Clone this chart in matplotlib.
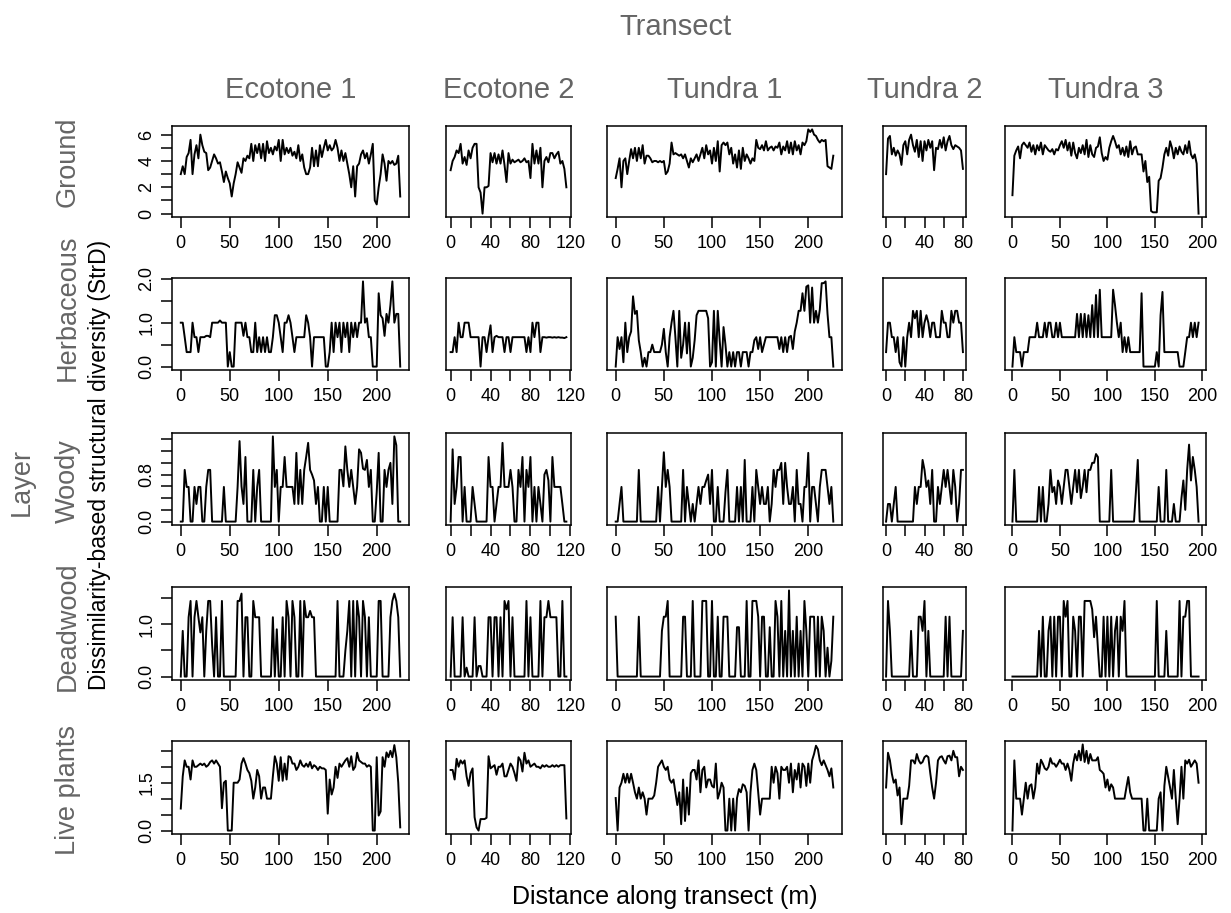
import numpy as np
import matplotlib
matplotlib.use("Agg")
import matplotlib.pyplot as plt

plt.rcParams["font.family"] = ["Liberation Sans", "DejaVu Sans"]

transects = ["Ecotone 1", "Ecotone 2", "Tundra 1", "Tundra 2", "Tundra 3"]
layers = ["Ground", "Herbaceous", "Woody", "Deadwood", "Live plants"]
step_m = 2  # sampling interval along each transect (m)

# ---- StrD values, one list per layer x transect (every 2 m) ----
ground_eco1 = [3.0, 3.6, 3.0, 4.3, 4.6, 5.6, 3.0, 4.5, 5.2, 4.2,
               6.0, 5.2, 4.7, 4.6, 3.3, 3.5, 4.0, 4.5, 4.2, 3.8,
               3.9, 3.2, 2.4, 3.2, 2.7, 2.3, 1.3, 2.3, 3.0, 3.9,
               3.5, 3.1, 4.2, 4.0, 4.4, 4.2, 5.3, 4.0, 5.2, 4.6,
               5.3, 4.2, 5.3, 4.0, 5.5, 4.6, 5.0, 4.5, 5.1, 4.8,
               5.6, 4.0, 5.6, 4.5, 5.0, 4.6, 5.0, 4.4, 4.7, 4.2,
               5.2, 4.0, 4.5, 3.5, 3.0, 3.0, 3.5, 5.0, 3.6, 4.8,
               3.6, 5.2, 4.3, 5.0, 5.6, 4.8, 5.2, 4.8, 5.0, 5.6,
               5.0, 4.0, 4.8, 4.0, 4.6, 3.8, 3.0, 2.0, 3.6, 1.3,
               3.6, 3.8, 4.5, 4.8, 4.2, 4.6, 3.8, 4.5, 5.3, 1.0,
               0.7, 2.0, 3.0, 4.5, 3.8, 2.5, 4.0, 3.8, 4.0, 3.7,
               3.8, 4.4, 1.3]
ground_eco2 = [3.3, 4.0, 4.3, 4.8, 4.6, 5.3, 3.8, 4.3, 3.7, 4.8,
               4.2, 5.0, 5.3, 5.3, 2.0, 1.6, 0.0, 2.0, 2.0, 2.1,
               4.6, 3.9, 4.6, 3.8, 4.5, 3.8, 4.8, 3.7, 2.4, 4.6,
               3.8, 4.1, 3.9, 4.0, 4.1, 3.9, 4.0, 4.2, 3.9, 4.0,
               2.7, 5.3, 3.8, 4.8, 3.8, 5.0, 2.0, 4.0, 4.3, 3.9,
               4.6, 4.6, 4.2, 4.5, 4.7, 3.8, 4.0, 3.4, 2.0]
ground_tun1 = [2.7, 3.4, 4.2, 2.0, 4.0, 4.2, 3.0, 4.0, 4.9, 4.2,
               5.0, 4.0, 5.0, 4.2, 5.2, 3.8, 4.4, 4.4, 4.2, 3.9,
               4.0, 4.0, 3.9, 4.0, 3.9, 4.0, 3.0, 3.2, 3.8, 5.4,
               4.5, 4.6, 4.5, 4.4, 4.5, 4.2, 4.5, 4.0, 3.5, 4.2,
               3.9, 4.2, 4.5, 4.0, 4.5, 5.0, 4.2, 5.2, 4.5, 4.8,
               3.8, 5.0, 4.0, 5.5, 3.2, 5.2, 5.4, 5.2, 5.4, 4.5,
               5.0, 3.8, 4.5, 3.5, 4.8, 3.4, 5.0, 4.0, 4.5, 4.2,
               3.8, 4.2, 4.0, 5.6, 5.0, 4.9, 5.2, 4.8, 5.5, 4.8,
               5.0, 5.1, 4.8, 5.1, 5.0, 5.4, 4.5, 5.1, 4.8, 5.5,
               4.6, 5.4, 4.5, 5.5, 4.8, 5.2, 4.5, 5.4, 5.2, 5.5,
               6.4, 6.2, 6.4, 6.0, 5.9, 5.6, 5.4, 5.6, 5.5, 5.6,
               3.6, 3.5, 3.4, 4.4]
ground_tun2 = [3.0, 5.7, 5.9, 4.5, 5.0, 4.4, 4.8, 4.5, 3.7, 5.2,
               5.5, 4.5, 5.6, 6.0, 5.2, 4.7, 5.6, 4.3, 5.5, 4.0,
               5.5, 4.8, 5.6, 5.0, 5.5, 3.3, 5.0, 4.9, 5.6, 5.0,
               5.8, 4.8, 5.5, 5.9, 5.2, 4.9, 5.2, 5.1, 5.0, 4.8,
               3.4]
ground_tun3 = [1.4, 4.4, 4.8, 5.1, 4.2, 5.2, 5.4, 5.2, 5.0, 5.4,
               4.7, 5.2, 4.5, 5.2, 4.8, 5.4, 4.5, 5.2, 5.0, 4.8,
               4.7, 4.9, 4.5, 4.9, 4.8, 5.2, 5.5, 5.0, 5.6, 4.8,
               5.4, 4.4, 5.4, 4.6, 4.2, 5.0, 4.6, 5.2, 4.5, 5.6,
               4.3, 5.2, 4.5, 4.3, 5.0, 5.1, 5.8, 4.6, 4.0, 4.3,
               4.1, 5.0, 5.5, 5.9, 5.5, 5.0, 5.2, 4.5, 5.0, 4.4,
               5.1, 4.3, 5.5, 4.5, 5.0, 5.1, 4.5, 4.5, 4.5, 3.2,
               4.0, 2.4, 2.8, 0.2, 0.1, 0.1, 0.1, 2.5, 2.7, 3.5,
               4.5, 5.0, 4.4, 5.5, 5.0, 4.2, 5.0, 4.5, 5.1, 4.7,
               4.5, 5.2, 4.6, 5.5, 4.5, 4.2, 4.5, 3.8, 0.0]

herb_eco1 = [1.0, 1.0, 0.67, 0.33, 0.33, 0.33, 1.0, 0.67, 0.67, 0.33,
             0.67, 0.67, 0.67, 0.7, 0.7, 0.67, 1.0, 1.0, 1.0, 1.0,
             1.05, 1.0, 1.0, 1.0, 0.0, 0.33, 0.0, 0.0, 1.0, 1.0,
             1.0, 1.0, 0.7, 1.0, 0.67, 0.67, 0.33, 0.33, 1.0, 0.33,
             0.67, 0.33, 0.67, 0.33, 0.67, 0.33, 0.33, 0.67, 1.17, 1.17,
             1.0, 0.67, 0.33, 1.0, 1.0, 1.17, 1.0, 0.67, 0.33, 0.67,
             0.67, 0.67, 0.67, 0.67, 1.17, 1.0, 0.67, 0.0, 0.67, 0.67,
             0.67, 0.67, 0.67, 0.67, 0.0, 0.0, 0.33, 1.0, 0.33, 1.0,
             0.67, 1.0, 0.33, 1.0, 0.67, 1.0, 0.33, 1.0, 0.67, 1.0,
             0.67, 1.0, 1.0, 1.94, 1.0, 1.1, 0.67, 0.67, 0.0, 0.0,
             0.0, 1.67, 1.17, 1.1, 0.7, 1.2, 1.0, 1.4, 1.94, 1.0,
             1.2, 1.2, 0.0]
herb_eco2 = [0.33, 0.33, 0.67, 0.33, 1.0, 0.67, 0.67, 1.0, 1.0, 1.0,
             0.67, 0.67, 0.67, 0.67, 0.67, 0.0, 0.67, 0.67, 0.33, 0.67,
             0.94, 0.33, 0.67, 0.7, 0.67, 0.67, 0.67, 0.33, 0.67, 0.67,
             0.33, 0.67, 0.67, 0.67, 0.67, 0.67, 0.67, 0.67, 0.33, 0.67,
             0.33, 1.0, 0.67, 1.0, 1.0, 0.33, 0.67, 0.67, 0.66, 0.67,
             0.67, 0.66, 0.67, 0.66, 0.67, 0.66, 0.66, 0.65, 0.67]
herb_tun1 = [0.0, 0.67, 0.4, 0.67, 0.1, 1.0, 0.33, 0.67, 0.8, 1.6,
             1.2, 1.27, 0.6, 0.33, 0.0, 0.2, 0.0, 0.33, 0.33, 0.5,
             0.33, 0.33, 0.33, 0.33, 0.5, 0.86, 0.33, 0.0, 0.67, 1.0,
             1.27, 0.67, 0.0, 1.27, 0.2, 0.5, 1.0, 0.3, 1.0, 0.0,
             0.2, 0.6, 1.17, 1.27, 1.27, 1.27, 1.27, 1.27, 1.1, 0.0,
             0.1, 1.27, 0.0, 1.27, 0.6, 0.0, 0.9, 0.5, 0.0, 0.33,
             0.0, 0.33, 0.0, 0.33, 0.33, 0.0, 0.33, 0.33, 0.33, 0.0,
             0.33, 0.33, 0.6, 0.67, 0.4, 0.67, 0.33, 0.5, 0.67, 0.67,
             0.67, 0.67, 0.67, 0.67, 0.67, 0.4, 0.67, 0.33, 0.67, 0.33,
             0.67, 0.7, 0.4, 0.8, 1.0, 1.27, 1.27, 1.67, 1.27, 1.82,
             1.85, 1.0, 1.8, 1.0, 1.27, 1.0, 1.3, 1.9, 1.9, 1.94,
             1.2, 0.67, 0.67, 0.0]
herb_tun2 = [0.33, 1.0, 1.0, 0.67, 0.67, 0.33, 0.67, 0.1, 0.0, 0.67,
             0.0, 0.67, 1.0, 0.67, 1.27, 1.1, 1.27, 0.67, 1.27, 0.67,
             1.0, 1.17, 1.0, 0.67, 1.0, 1.0, 0.67, 0.67, 0.67, 1.27,
             1.0, 1.0, 0.67, 0.67, 1.27, 1.0, 1.27, 1.27, 1.0, 1.0,
             0.33]
herb_tun3 = [0.0, 0.67, 0.33, 0.33, 0.33, 0.0, 0.33, 0.33, 0.33, 0.67,
             0.67, 0.67, 0.67, 1.0, 0.67, 0.67, 0.67, 1.0, 0.67, 1.0,
             1.0, 0.67, 0.67, 1.0, 0.67, 1.0, 0.67, 0.67, 0.67, 0.67,
             0.67, 0.67, 0.67, 0.67, 1.2, 0.67, 1.2, 0.67, 1.2, 0.67,
             1.17, 0.67, 1.4, 0.67, 1.63, 0.67, 1.75, 0.67, 0.67, 0.67,
             0.67, 0.67, 0.67, 1.75, 1.4, 1.0, 0.67, 1.0, 0.33, 0.67,
             0.33, 0.67, 0.33, 0.33, 0.33, 0.33, 0.33, 0.33, 1.67, 0.0,
             0.0, 0.0, 0.0, 0.0, 0.0, 0.0, 0.33, 0.0, 1.17, 1.7,
             0.33, 0.33, 0.33, 0.33, 0.33, 0.33, 0.33, 0.33, 0.0, 0.0,
             0.0, 0.33, 0.67, 0.67, 1.0, 0.67, 1.0, 0.67, 1.0]

woody_eco1 = [0.0, 0.0, 0.88, 0.59, 0.59, 0.0, 0.0, 0.59, 0.3, 0.59,
              0.59, 0.0, 0.0, 0.59, 0.88, 0.88, 0.0, 0.0, 0.0, 0.0,
              0.0, 0.0, 0.59, 0.0, 0.0, 0.0, 0.0, 0.0, 0.0, 0.59,
              1.37, 0.6, 0.3, 1.1, 0.0, 0.0, 0.0, 0.88, 0.0, 0.59,
              0.88, 0.0, 0.0, 0.0, 0.0, 0.0, 0.0, 1.45, 0.59, 0.88,
              0.0, 0.59, 0.59, 1.1, 0.59, 0.59, 0.59, 0.59, 0.3, 1.17,
              0.3, 0.88, 0.3, 0.88, 1.1, 1.34, 0.88, 0.8, 0.7, 0.3,
              0.59, 0.0, 0.0, 0.59, 0.0, 0.59, 0.0, 0.0, 0.0, 0.0,
              0.0, 0.88, 0.88, 0.6, 1.28, 0.88, 0.59, 0.88, 0.59, 0.3,
              0.59, 1.23, 1.17, 0.9, 0.88, 1.05, 0.59, 0.88, 0.0, 0.0,
              0.5, 1.17, 0.0, 0.0, 0.88, 0.59, 0.88, 1.0, 0.3, 1.45,
              1.3, 0.0, 0.0]
woody_eco2 = [0.0, 1.23, 0.3, 0.59, 1.1, 1.1, 0.0, 0.59, 0.0, 0.0,
              0.0, 0.59, 0.3, 0.0, 0.0, 0.0, 0.0, 0.0, 0.0, 1.1,
              0.59, 0.59, 0.0, 0.3, 0.59, 0.59, 1.34, 0.59, 0.59, 0.59,
              0.88, 0.59, 0.0, 0.0, 0.88, 0.59, 1.1, 0.0, 0.88, 0.59,
              1.1, 0.0, 0.59, 0.0, 0.59, 0.3, 0.0, 0.8, 0.88, 0.7,
              0.0, 1.1, 0.59, 0.59, 0.59, 0.59, 0.3, 0.0, 0.0]
woody_tun1 = [0.0, 0.0, 0.3, 0.59, 0.0, 0.0, 0.0, 0.0, 0.0, 0.0,
              0.0, 0.0, 0.88, 0.0, 0.0, 0.0, 0.0, 0.0, 0.0, 0.0,
              0.0, 0.0, 0.59, 0.0, 0.59, 1.18, 0.59, 0.88, 0.59, 0.0,
              0.0, 0.0, 0.0, 0.0, 0.0, 0.88, 0.0, 0.59, 0.3, 0.0,
              0.3, 0.0, 0.3, 0.59, 0.3, 0.59, 0.59, 0.7, 0.8, 0.3,
              0.88, 0.0, 0.0, 0.59, 0.0, 0.0, 0.0, 0.5, 0.88, 0.0,
              0.0, 0.0, 0.0, 0.59, 0.0, 0.59, 0.0, 1.05, 0.0, 0.0,
              0.0, 0.59, 0.0, 0.88, 0.59, 0.3, 0.59, 0.3, 0.3, 0.59,
              0.0, 0.3, 0.88, 0.59, 0.88, 0.88, 1.0, 0.3, 1.0, 0.59,
              0.3, 0.3, 0.59, 0.0, 0.88, 0.3, 0.3, 0.0, 0.59, 0.59,
              1.17, 0.0, 0.59, 0.59, 0.3, 0.0, 0.59, 0.88, 0.88, 0.88,
              0.59, 0.3, 0.59, 0.0]
woody_tun2 = [0.0, 0.3, 0.3, 0.0, 0.3, 0.59, 0.0, 0.0, 0.0, 0.0,
              0.0, 0.0, 0.0, 0.0, 0.0, 0.59, 0.3, 0.59, 0.59, 1.05,
              0.88, 0.59, 0.7, 0.3, 0.88, 0.0, 0.0, 0.59, 0.3, 0.59,
              0.88, 0.59, 0.88, 0.59, 0.3, 0.88, 0.59, 0.0, 0.3, 0.88,
              0.88]
woody_tun3 = [0.0, 0.88, 0.0, 0.0, 0.0, 0.0, 0.0, 0.0, 0.0, 0.0,
              0.0, 0.0, 0.0, 0.0, 0.59, 0.0, 0.59, 0.0, 0.0, 0.3,
              0.88, 0.5, 0.59, 0.3, 0.7, 0.59, 0.3, 0.59, 0.88, 0.88,
              0.59, 0.3, 0.59, 0.88, 0.5, 0.88, 0.4, 0.6, 0.88, 0.5,
              0.88, 0.88, 1.0, 1.0, 1.15, 1.1, 0.0, 0.0, 0.0, 0.0,
              0.0, 0.0, 0.88, 0.0, 0.0, 0.0, 0.0, 0.0, 0.0, 0.0,
              0.0, 0.0, 0.0, 0.0, 0.0, 0.5, 1.05, 0.0, 0.0, 0.0,
              0.0, 0.0, 0.0, 0.0, 0.0, 0.0, 0.0, 0.59, 0.0, 0.0,
              0.0, 0.88, 0.0, 0.0, 0.0, 0.3, 0.0, 0.0, 0.0, 0.4,
              0.7, 0.2, 0.88, 1.31, 0.7, 1.1, 0.88, 0.59, 0.0]

dead_eco1 = [0.0, 0.87, 0.0, 0.0, 1.13, 1.44, 0.0, 1.13, 1.44, 1.13,
             0.84, 1.13, 0.0, 0.87, 1.44, 1.44, 0.6, 0.0, 1.13, 0.0,
             0.0, 1.44, 0.0, 0.0, 0.0, 0.0, 0.0, 0.0, 0.0, 1.44,
             1.44, 1.58, 0.0, 1.13, 1.13, 0.0, 0.0, 1.44, 1.13, 1.13,
             1.13, 0.0, 0.0, 0.0, 0.0, 0.0, 0.0, 1.13, 0.0, 0.9,
             0.0, 0.0, 1.13, 0.0, 1.44, 1.13, 0.0, 1.44, 1.13, 0.0,
             0.0, 1.44, 0.0, 1.44, 1.13, 1.13, 1.25, 1.13, 1.13, 0.0,
             0.0, 0.0, 0.0, 0.0, 0.0, 0.0, 0.0, 0.0, 0.0, 0.0,
             1.44, 0.0, 0.0, 0.0, 0.49, 0.87, 1.44, 0.0, 1.44, 0.0,
             1.44, 1.13, 0.0, 1.44, 1.13, 0.0, 1.13, 0.0, 0.0, 0.0,
             0.0, 1.44, 1.44, 0.0, 0.0, 0.0, 0.0, 1.13, 1.44, 1.58,
             1.44, 1.13, 0.0]
dead_eco2 = [0.0, 1.13, 0.0, 0.0, 0.0, 0.0, 1.13, 0.0, 0.17, 0.0,
             0.0, 0.0, 1.13, 0.0, 0.2, 0.2, 0.0, 0.0, 0.0, 1.13,
             1.13, 0.0, 1.13, 1.13, 0.0, 1.13, 0.0, 1.44, 1.28, 1.44,
             0.0, 1.13, 0.0, 0.0, 0.0, 0.0, 0.0, 0.0, 1.44, 0.0,
             1.13, 0.0, 0.0, 0.0, 0.0, 1.44, 0.0, 1.13, 1.13, 1.44,
             1.13, 1.13, 1.13, 1.13, 0.0, 0.0, 1.44, 0.0, 0.0]
dead_tun1 = [1.14, 0.0, 0.0, 0.0, 0.0, 0.0, 0.0, 0.0, 0.0, 0.0,
             0.0, 0.0, 1.14, 0.0, 0.0, 0.0, 0.0, 0.0, 0.0, 0.0,
             0.0, 0.0, 0.0, 0.0, 0.87, 1.14, 1.14, 1.44, 0.0, 0.0,
             0.0, 0.0, 0.0, 0.0, 0.0, 1.14, 1.14, 0.0, 0.0, 0.0,
             1.44, 0.0, 0.0, 0.0, 0.0, 1.44, 1.44, 1.44, 0.0, 0.0,
             1.44, 0.0, 0.0, 1.14, 0.0, 0.0, 1.14, 1.14, 1.14, 0.0,
             0.0, 0.0, 0.0, 0.94, 0.94, 0.0, 0.0, 0.0, 1.44, 0.0,
             0.0, 1.44, 1.44, 1.44, 1.14, 0.0, 1.14, 1.14, 0.0, 0.0,
             0.94, 0.0, 0.0, 1.44, 1.14, 0.0, 1.44, 0.0, 0.87, 0.0,
             1.64, 0.0, 0.87, 0.0, 1.14, 0.0, 0.87, 0.0, 1.44, 0.87,
             0.0, 1.14, 1.14, 1.14, 0.0, 1.14, 0.0, 1.14, 0.87, 0.0,
             0.55, 0.0, 0.3, 1.14]
dead_tun2 = [0.0, 1.44, 0.87, 0.0, 0.0, 0.0, 0.0, 0.0, 0.0, 0.0,
             0.0, 0.0, 0.0, 0.87, 0.0, 0.0, 0.0, 1.14, 1.14, 0.87,
             1.44, 0.0, 0.87, 0.0, 0.0, 0.0, 0.0, 0.0, 0.0, 0.0,
             0.0, 1.14, 0.0, 1.14, 0.0, 0.0, 0.0, 0.0, 0.0, 0.0,
             0.87]
dead_tun3 = [0.0, 0.0, 0.0, 0.0, 0.0, 0.0, 0.0, 0.0, 0.0, 0.0,
             0.0, 0.0, 0.0, 0.0, 0.87, 0.0, 1.14, 0.0, 0.0, 0.87,
             1.14, 0.0, 1.14, 0.0, 1.14, 1.14, 0.0, 1.44, 1.14, 1.44,
             0.0, 0.0, 1.14, 0.87, 0.0, 1.14, 1.14, 0.0, 1.44, 1.44,
             1.44, 1.44, 1.28, 0.75, 1.14, 0.54, 0.0, 0.0, 1.14, 0.0,
             1.14, 0.0, 1.14, 0.0, 0.87, 1.14, 0.0, 1.14, 0.87, 1.44,
             0.0, 0.0, 0.0, 0.0, 0.0, 0.0, 0.0, 0.0, 0.0, 0.0,
             0.0, 0.0, 0.0, 0.0, 0.0, 0.0, 1.44, 0.0, 0.0, 0.0,
             0.0, 0.87, 0.0, 0.0, 0.0, 0.0, 0.0, 0.0, 1.44, 0.0,
             1.14, 1.14, 1.44, 1.44, 0.0, 0.0, 0.0, 0.0, 0.0]

live_eco1 = [0.69, 1.7, 2.2, 2.0, 2.0, 1.6, 2.2, 2.0, 2.0, 2.05,
             2.1, 2.05, 2.1, 2.0, 2.05, 2.15, 2.2, 2.1, 2.2, 2.1,
             2.0, 0.7, 1.5, 1.56, 0.0, 0.0, 0.0, 1.5, 1.5, 1.5,
             1.6, 2.1, 2.27, 2.1, 1.9, 1.8, 1.56, 1.0, 1.35, 1.9,
             1.7, 1.0, 1.35, 1.35, 1.0, 1.0, 1.0, 1.7, 2.33, 2.1,
             1.56, 2.3, 1.56, 2.1, 1.6, 2.33, 2.3, 2.1, 2.1, 1.9,
             2.0, 2.2, 2.05, 2.0, 2.1, 2.0, 2.15, 1.95, 2.05, 2.0,
             1.9, 2.0, 1.95, 1.95, 1.9, 0.53, 1.6, 1.13, 1.35, 2.0,
             1.65, 2.1, 2.0, 2.1, 2.2, 2.27, 2.0, 2.33, 1.9, 2.0,
             2.44, 2.2, 2.15, 2.1, 2.1, 2.0, 2.05, 2.0, 0.0, 0.0,
             2.3, 0.47, 0.6, 2.3, 2.0, 2.45, 2.3, 2.5, 2.3, 2.68,
             2.3, 1.5, 0.1]
live_eco2 = [1.9, 1.9, 1.6, 2.25, 2.0, 2.2, 2.1, 2.2, 1.7, 1.4,
             1.8, 1.95, 0.42, 0.1, 0.0, 0.36, 0.36, 0.36, 0.4, 2.33,
             1.95, 2.0, 2.05, 1.75, 2.0, 2.0, 2.1, 1.7, 1.7, 1.9,
             2.1, 2.0, 1.8, 1.56, 2.3, 2.2, 1.85, 2.44, 2.1, 2.2,
             2.0, 2.05, 2.1, 2.0, 2.0, 1.95, 2.05, 2.0, 2.05, 2.0,
             2.0, 2.05, 2.0, 2.05, 2.0, 2.05, 2.05, 2.05, 0.38]
live_tun1 = [1.02, 0.0, 1.35, 1.5, 1.78, 1.5, 1.78, 1.5, 1.78, 1.5,
             1.2, 1.0, 1.35, 1.0, 1.2, 1.0, 0.5, 1.0, 1.0, 1.0,
             1.1, 1.5, 2.0, 2.1, 2.2, 2.0, 1.9, 2.0, 1.6, 1.5,
             1.6, 1.2, 0.8, 1.2, 0.2, 1.6, 0.3, 1.35, 0.5, 1.8,
             1.9, 1.9, 1.6, 2.2, 1.2, 1.9, 2.0, 1.35, 1.6, 1.6,
             1.4, 1.35, 2.1, 1.0, 1.2, 1.5, 1.35, 0.0, 0.0, 1.0,
             0.0, 1.0, 0.0, 1.02, 1.3, 1.2, 1.45, 1.4, 1.2, 0.0,
             1.2, 1.9, 2.1, 1.9, 1.2, 0.5, 1.0, 1.0, 1.0, 1.0,
             1.0, 2.0, 1.5, 2.0, 1.8, 1.0, 2.0, 1.9, 1.9, 2.0,
             1.5, 2.1, 1.2, 1.9, 1.6, 2.1, 1.35, 2.1, 2.0, 1.4,
             2.1, 1.5, 2.2, 2.4, 2.66, 2.55, 2.2, 2.05, 2.2, 2.05,
             1.9, 1.7, 1.95, 1.35]
live_tun2 = [1.35, 2.44, 2.2, 1.78, 1.5, 1.6, 1.1, 1.35, 0.2, 1.0,
             1.0, 1.0, 1.4, 2.2, 2.2, 2.1, 2.4, 2.2, 2.1, 2.15,
             2.3, 2.35, 2.3, 1.8, 1.35, 1.0, 1.5, 2.2, 2.3, 2.33,
             2.2, 2.1, 2.33, 2.35, 2.2, 2.5, 2.3, 2.3, 1.7, 2.0,
             1.9]
live_tun3 = [0.0, 2.2, 1.0, 1.0, 1.0, 0.5, 1.0, 1.5, 1.0, 1.4,
             1.45, 1.0, 1.35, 2.1, 1.78, 2.22, 2.1, 1.95, 1.9, 2.0,
             2.27, 2.1, 2.1, 2.0, 2.1, 2.22, 2.1, 2.1, 1.9, 2.1,
             1.9, 1.56, 2.1, 2.4, 2.2, 2.5, 2.2, 2.7, 2.15, 2.5,
             2.1, 2.4, 2.2, 2.2, 2.2, 2.3, 1.9, 1.85, 1.78, 1.35,
             1.6, 1.25, 1.45, 1.35, 1.0, 1.0, 1.0, 1.0, 1.0, 1.0,
             1.35, 1.68, 1.2, 1.0, 1.0, 1.0, 1.0, 1.0, 1.0, 0.0,
             0.0, 1.0, 0.0, 0.0, 0.0, 0.0, 0.0, 1.0, 1.2, 0.0,
             1.4, 2.0, 1.68, 1.35, 1.0, 1.9, 1.0, 0.2, 1.0, 2.0,
             1.0, 2.2, 2.1, 2.22, 2.0, 2.1, 2.2, 2.1, 1.5]

series = {
    "Ground": [ground_eco1, ground_eco2, ground_tun1, ground_tun2, ground_tun3],
    "Herbaceous": [herb_eco1, herb_eco2, herb_tun1, herb_tun2, herb_tun3],
    "Woody": [woody_eco1, woody_eco2, woody_tun1, woody_tun2, woody_tun3],
    "Deadwood": [dead_eco1, dead_eco2, dead_tun1, dead_tun2, dead_tun3],
    "Live plants": [live_eco1, live_eco2, live_tun1, live_tun2, live_tun3],
}

# axis ticks: x per transect, y per layer (left column only)
x_ticks = [[0, 50, 100, 150, 200], [0, 20, 40, 60, 80, 100, 120],
           [0, 50, 100, 150, 200], [0, 20, 40, 60, 80], [0, 50, 100, 150, 200]]
x_ticklabels = [["0", "50", "100", "150", "200"], ["0", "", "40", "", "80", "", "120"],
                ["0", "50", "100", "150", "200"], ["0", "", "40", "", "80"],
                ["0", "50", "100", "150", "200"]]
y_ticks = [[0, 1, 2, 3, 4, 5, 6], [0, 0.5, 1.0, 1.5, 2.0],
           [0, 0.2, 0.4, 0.6, 0.8, 1.0, 1.2, 1.4], [0, 0.5, 1.0, 1.5],
           [0, 0.5, 1.0, 1.5, 2.0, 2.5]]
y_ticklabels = [["0", "", "2", "", "4", "", "6"], ["0.0", "", "1.0", "", "2.0"],
                ["0.0", "", "", "", "0.8", "", "", ""], ["0.0", "", "1.0", ""],
                ["0.0", "", "", "1.5", "", ""]]

# ---- layout (pixels) ----
W, H = 1231, 913
col_px = [(172, 409), (446, 571), (607, 842), (883, 966), (1005, 1206)]
row_px = [(126, 217), (278, 370), (433, 525), (587, 680), (741, 834)]
# the layer names are laid out as one spaced line in the left margin
layer_label_y = [162, 308, 481, 626, 790]
gray = "#656565"

fig = plt.figure(figsize=(W / 100, H / 100), dpi=100)


def fx(px):
    return px / W


def fy(py):
    return 1 - py / H


for r, layer in enumerate(layers):
    row_vals = series[layer]
    lo = min(min(v) for v in row_vals)
    hi = max(max(v) for v in row_vals)
    pad = 0.04 * (hi - lo)
    top, bot = row_px[r]
    for c, vals in enumerate(row_vals):
        left, right = col_px[c]
        ax = fig.add_axes([fx(left), fy(bot), (right - left) / W, (bot - top) / H])
        x = np.arange(len(vals)) * step_m
        ax.plot(x, vals, color="black", lw=1.4)
        ax.set_xlim(-0.04 * x[-1], 1.04 * x[-1])
        ax.set_ylim(lo - pad, hi + pad)
        for s in ax.spines.values():
            s.set_linewidth(1.1)
        ax.set_xticks(x_ticks[c])
        ax.set_xticklabels(x_ticklabels[c], fontsize=13)
        ax.tick_params(axis="x", direction="out", length=8, width=1.1, pad=5)
        if c == 0:
            ax.set_yticks(y_ticks[r])
            ax.set_yticklabels(y_ticklabels[r], fontsize=13, rotation=90, va="center")
            ax.tick_params(axis="y", direction="out", length=8, width=1.1, pad=4)
            fig.text(fx(68), fy(layer_label_y[r]), layer, rotation=90, ha="center",
                     va="center", color=gray, fontsize=19.5)
        else:
            ax.set_yticks([])
        if r == 0:
            fig.text(fx((left + right) / 2), fy(90), transects[c], ha="center",
                     va="center", color=gray, fontsize=21)

fig.text(fx(676), fy(27), "Transect", ha="center", va="center", color=gray, fontsize=21)
fig.text(fx(22), fy(482), "Layer", rotation=90, ha="center", va="center",
         color=gray, fontsize=19.5)
fig.text(fx(100), fy(465), "Dissimilarity-based structural diversity (StrD)",
         rotation=90, ha="center", va="center", color="black", fontsize=16.5)
fig.text(fx(665), fy(897), "Distance along transect (m)", ha="center",
         va="center", color="black", fontsize=18)

fig.savefig("out.png", dpi=100, facecolor="white")
